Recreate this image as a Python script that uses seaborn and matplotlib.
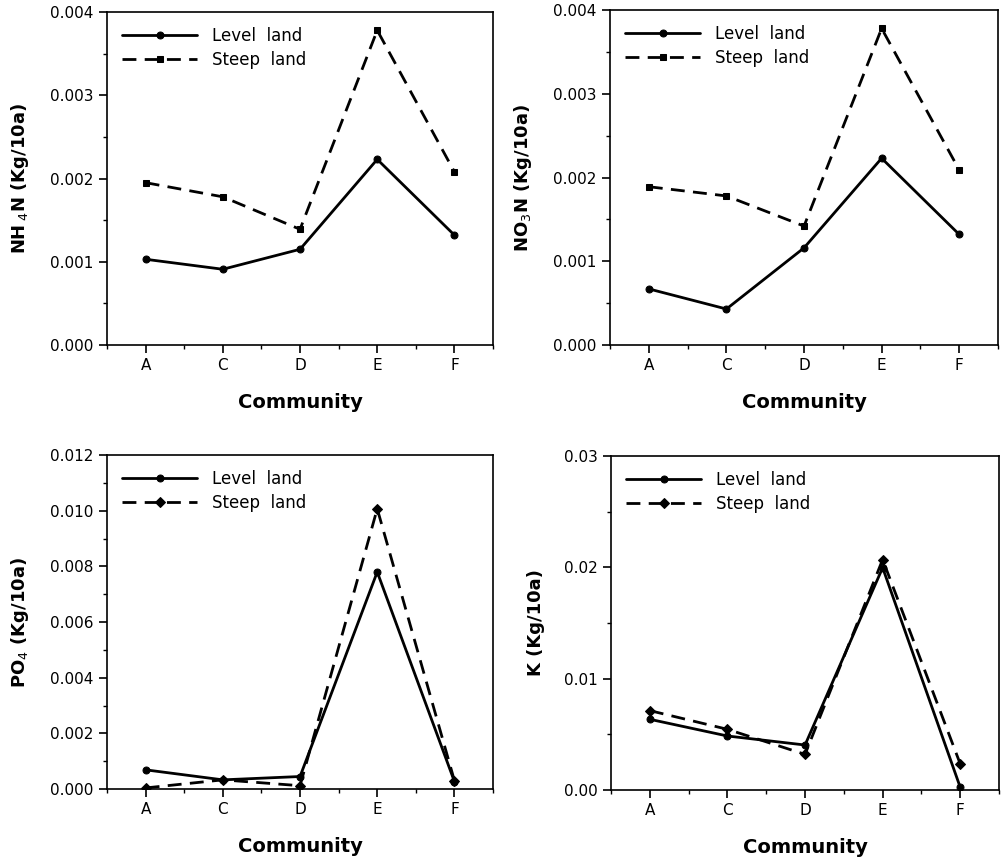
import numpy as np
import pandas as pd
import matplotlib
matplotlib.use("Agg")
import matplotlib.pyplot as plt
from matplotlib.ticker import MultipleLocator, FormatStrFormatter
import seaborn as sns

communities = ["A", "C", "D", "E", "F"]

nh4_level = [0.00103, 0.00091, 0.00115, 0.00223, 0.00132]
nh4_steep = [0.00195, 0.00178, 0.00139, 0.00378, 0.00208]

no3_level = [0.00067, 0.00043, 0.00116, 0.00223, 0.00132]
no3_steep = [0.00189, 0.00178, 0.00142, 0.00378, 0.00209]

po4_level = [0.00069, 0.00033, 0.00045, 0.00780, 0.00027]
po4_steep = [0.00004, 0.00033, 0.00012, 0.01007, 0.00030]

k_level = [0.00635, 0.00485, 0.00404, 0.01997, 0.00024]
k_steep = [0.00713, 0.00545, 0.00320, 0.02070, 0.00234]

series_names = ["Level  land", "Steep  land"]
x_label = "Community"

sns.set_theme(style="ticks")
plt.rcParams["font.family"] = ["DejaVu Sans"]
plt.rcParams["text.color"] = "black"
plt.rcParams["axes.labelcolor"] = "black"
plt.rcParams["xtick.color"] = "black"
plt.rcParams["ytick.color"] = "black"

fig = plt.figure(figsize=(10.07, 8.63), dpi=100)

panels = [
    dict(level=nh4_level, steep=nh4_steep, ylabel="NH$_{\\ 4}$N (Kg/10a)", ymax=0.004, major=0.001, minor=0.0005,
         fmt="%.3f", steep_marker="s", rect=[0.1063, 0.6002, 0.3833, 0.3859]),
    dict(level=no3_level, steep=no3_steep, ylabel="NO$_3$N (Kg/10a)", ymax=0.004, major=0.001, minor=0.0005,
         fmt="%.3f", steep_marker="s", rect=[0.6058, 0.6002, 0.3853, 0.3882]),
    dict(level=po4_level, steep=po4_steep, ylabel="PO$_4$ (Kg/10a)", ymax=0.012, major=0.002, minor=0.001,
         fmt="%.3f", steep_marker="D", rect=[0.1063, 0.0857, 0.3833, 0.3870]),
    dict(level=k_level, steep=k_steep, ylabel="K (Kg/10a)", ymax=0.03, major=0.01, minor=0.005,
         fmt="%.2f", steep_marker="D", rect=[0.6068, 0.0846, 0.3853, 0.3870]),
]

for p in panels:
    ax = fig.add_axes(p["rect"])
    df = pd.DataFrame({
        "Community": communities * 2,
        "value": list(p["level"]) + list(p["steep"]),
        "Land": [series_names[0]] * 5 + [series_names[1]] * 5,
    })
    df["pos"] = df["Community"].map({c: i for i, c in enumerate(communities)})
    sns.lineplot(data=df, x="pos", y="value", style="Land", ax=ax, color="black",
                 markers={series_names[0]: "o", series_names[1]: p["steep_marker"]},
                 dashes={series_names[0]: "", series_names[1]: (5, 3)},
                 linewidth=2.0, markersize=5, markeredgecolor="black", legend=True)
    ax.set_xlim(-0.5, 4.5)
    ax.set_ylim(0, p["ymax"])
    ax.set_xticks(range(len(communities)))
    ax.set_xticklabels(communities)
    ax.xaxis.set_minor_locator(MultipleLocator(0.5))
    ax.yaxis.set_major_locator(MultipleLocator(p["major"]))
    ax.yaxis.set_minor_locator(MultipleLocator(p["minor"]))
    ax.yaxis.set_major_formatter(FormatStrFormatter(p["fmt"]))
    ax.tick_params(which="major", direction="out", length=6, width=1.2, labelsize=11, colors="black")
    ax.tick_params(which="minor", direction="out", length=3, width=1.0)
    for s in ax.spines.values():
        s.set_visible(True)
        s.set_linewidth(1.2)
        s.set_color("black")
    ax.set_xlabel(x_label, fontsize=14, labelpad=14, fontweight="semibold")
    ax.set_ylabel(p["ylabel"], fontsize=13, labelpad=14, fontweight="semibold")
    h, l = ax.get_legend_handles_labels()
    ax.legend(h, l, loc="upper left", frameon=False, handlelength=4.5, fontsize=12,
              handletextpad=0.9, borderaxespad=0.5, labelspacing=0.35)

fig.savefig("out.png", dpi=100, facecolor="white")
